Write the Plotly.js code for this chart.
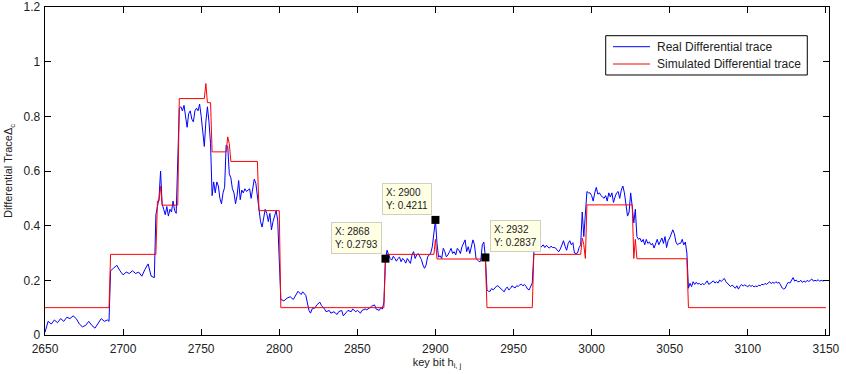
<!DOCTYPE html>
<html>
<head>
<meta charset="utf-8">
<script src="https://cdn.plot.ly/plotly-3.0.1.min.js"></script>
<style>html,body{margin:0;padding:0;background:#fff;}#chart{width:846px;height:374px;}</style>
</head>
<body>
<div id="chart"></div>
<script>
// Real differential trace (blue): key bit and value
const realKeys = [
2650,2652,2654,2656,2658,2660,2662,2664,2666,2668,2670,2672,2674,2676,2678,2680,2682,2684,2686,2688,2690,2691,
2692,2694,2696,2698,2700,2702,2704,2706,2708,2710,2712,2714,2716,2718,2720,
2721,2722,2723,2724,2725,2726,2727,2728,2729,2730,2731,2732,2733,2734,
2735,2736,2737,2738,2739,2740,2741,2742,2743,2744,2745,2746,2747,2748,2749,2750,2751,2752,2753,2754,2755,2756,
2757,2758,2759,2760,2761,2762,2763,2764,2765,2766,2767,2768,2769,2770,2771,2772,2773,2774,2775,2776,2777,2778,2779,2780,2781,2782,2783,2784,2785,2786,
2787,2788,2789,2790,2791,2792,2793,2794,2795,2796,2797,2798,2799,2800,
2801,2803,2805,2807,2809,2811,2812,2814,2815,2817,2818,2819,2820,2821,2823,2824,2826,2827,2829,2830,2832,2833,2835,2837,2838,2840,2841,2843,2844,2846,2847,2849,2850,2852,2853,2855,2856,2858,2859,2861,2862,2864,2865,2866,2867,
2868,2869,2870,2871,2872,2873,2874,2875,2876,2877,2878,2879,2880,2881,2882,2883,2884,2885,2886,2887,2888,2889,2890,2891,2892,2893,2894,2895,2896,2897,2898,2899,
2900,2901,2902,2903,2904,2905,2906,2907,2908,2909,2910,2911,2912,2913,2914,2915,2916,2917,2918,2919,2920,2921,2922,2923,2924,2925,2926,2927,2928,2929,2930,2931,2932,
2933,2934,2935,2936,2937,2938,2939,2940,2941,2942,2943,2944,2945,2946,2947,2948,2949,2950,2951,2952,2953,2954,2955,2956,2957,2958,2959,2960,2961,2962,
2963,2964,2965,2966,2967,2968,2969,2970,2971,2972,2973,2974,2975,2976,2977,2978,2979,2980,2981,2982,2983,2984,2985,2986,2987,2988,2989,2990,2991,2992,2993,2994,2995,2996,
2997,2998,2999,3000,3001,3002,3003,3004,3005,3006,3007,3008,3009,3010,3011,3012,3013,3014,3015,3016,3017,3018,3019,3020,3021,3022,3023,3024,3025,3026,3027,3028,
3029,3030,3031,3032,3033,3034,3035,3036,3037,3038,3039,3040,3041,3042,3043,3044,3045,3046,3047,3048,3049,3050,3051,3052,3053,3054,3055,3056,3057,3058,3059,3060,3061,
3062,3063,3064,3065,3066,3067,3068,3069,3070,3071,3072,3073,3074,3075,3076,3077,3078,3079,3080,3081,3082,3083,3084,3085,3086,3087,3088,3089,3090,3091,3092,3093,3094,3095,3096,3097,3098,3099,3100,
3101,3102,3103,3104,3105,3106,3107,3108,3109,3110,3111,3112,3113,3114,3115,3116,3117,3118,3119,3120,3121,3122,3123,3124,3125,3126,3127,3128,3129,3130,
3131,3132,3133,3134,3135,3136,3137,3138,3139,3140,3141,3142,3143,3144,3145,3146,3147,3148,3149,3150
];
const realVals = [
0.01,0.05,0.04,0.055,0.045,0.06,0.05,0.065,0.06,0.07,0.06,0.04,0.03,0.035,0.05,0.035,0.025,0.045,0.06,0.05,0.055,0.05,
0.235,0.245,0.255,0.235,0.22,0.23,0.225,0.235,0.225,0.23,0.215,0.24,0.26,0.215,0.21,
0.44,0.47,0.5,0.6,0.48,0.46,0.44,0.47,0.435,0.46,0.45,0.49,0.455,0.445,
0.64,0.83,0.835,0.82,0.84,0.80,0.76,0.81,0.82,0.79,0.78,0.82,0.83,0.82,0.845,0.80,0.745,0.69,0.78,0.835,0.78,0.70,
0.51,0.56,0.52,0.56,0.545,0.50,0.48,0.52,0.54,0.695,0.69,0.59,0.575,0.535,0.52,0.48,0.51,0.565,0.495,0.53,0.52,0.535,0.525,0.53,0.535,0.50,0.54,0.57,0.555,0.51,
0.45,0.415,0.395,0.43,0.46,0.445,0.415,0.445,0.385,0.415,0.44,0.455,0.42,0.25,
0.13,0.125,0.135,0.14,0.13,0.15,0.16,0.148,0.158,0.145,0.12,0.09,0.08,0.095,0.10,0.11,0.12,0.108,0.095,0.085,0.09,0.08,0.085,0.075,0.085,0.09,0.07,0.085,0.09,0.085,0.095,0.085,0.09,0.08,0.09,0.095,0.092,0.10,0.105,0.11,0.095,0.09,0.10,0.095,0.12,
0.2793,0.31,0.293,0.28,0.274,0.288,0.28,0.27,0.28,0.285,0.268,0.28,0.274,0.263,0.28,0.27,0.262,0.293,0.305,0.28,0.293,0.298,0.286,0.276,0.256,0.244,0.256,0.286,0.293,0.30,0.323,0.37,
0.4211,0.335,0.285,0.29,0.28,0.317,0.305,0.286,0.293,0.305,0.317,0.298,0.305,0.293,0.317,0.31,0.298,0.323,0.335,0.348,0.305,0.323,0.298,0.33,0.348,0.33,0.28,0.274,0.268,0.27,0.33,0.34,0.2837,
0.165,0.16,0.16,0.17,0.165,0.172,0.178,0.18,0.175,0.17,0.165,0.158,0.17,0.175,0.165,0.17,0.18,0.175,0.172,0.18,0.178,0.183,0.186,0.18,0.185,0.178,0.168,0.165,0.175,0.19,
0.30,0.325,0.31,0.33,0.318,0.325,0.33,0.32,0.328,0.322,0.318,0.325,0.32,0.32,0.318,0.31,0.305,0.315,0.33,0.345,0.325,0.31,0.335,0.345,0.33,0.338,0.30,0.298,0.30,0.32,0.33,0.45,0.36,0.45,
0.525,0.52,0.52,0.51,0.49,0.52,0.54,0.515,0.52,0.51,0.505,0.50,0.51,0.49,0.52,0.505,0.52,0.485,0.505,0.52,0.525,0.50,0.53,0.545,0.52,0.47,0.435,0.45,0.52,0.47,0.41,0.46,
0.36,0.35,0.354,0.34,0.35,0.33,0.35,0.335,0.34,0.33,0.335,0.318,0.335,0.35,0.33,0.342,0.355,0.335,0.36,0.32,0.345,0.355,0.37,0.385,0.37,0.34,0.33,0.335,0.335,0.35,0.33,0.34,0.30,
0.171,0.189,0.177,0.195,0.185,0.193,0.186,0.189,0.183,0.189,0.184,0.19,0.198,0.185,0.19,0.194,0.198,0.19,0.195,0.19,0.201,0.196,0.2,0.207,0.195,0.19,0.183,0.177,0.183,0.175,0.171,0.18,0.168,0.178,0.185,0.179,0.183,0.18,0.176,
0.183,0.178,0.181,0.176,0.179,0.177,0.182,0.18,0.186,0.183,0.189,0.185,0.19,0.195,0.188,0.193,0.189,0.195,0.19,0.193,0.183,0.172,0.168,0.171,0.185,0.193,0.19,0.198,0.21,0.197,
0.201,0.195,0.195,0.2,0.192,0.198,0.193,0.2,0.196,0.2,0.205,0.197,0.2,0.198,0.202,0.197,0.2,0.198,0.2,0.2
];

// Simulated differential trace (red): breakpoints of the step curve
const simKeys = [2650,2691,2692,2721,2722,2723,2724,2725,2735,2736,2752,2753,2754,2756,2757,2766,2767,2768,2769,2786,2787,2800,2801,2867,2868,2869,2899,2900,2901,2931,2932,2933,2962,2963,2993,2994,2995,2996,2997,3026,3027,3028,3029,3061,3062,3150];
const simVals = [0.10,0.10,0.295,0.295,0.49,0.49,0.545,0.475,0.475,0.865,0.865,0.92,0.85,0.85,0.67,0.67,0.725,0.70,0.635,0.635,0.455,0.455,0.10,0.10,0.279,0.295,0.295,0.35,0.278,0.278,0.278,0.10,0.10,0.295,0.295,0.355,0.33,0.28,0.476,0.476,0.28,0.35,0.279,0.279,0.10,0.10];

// Data tips
const tipKeys = [2868, 2900, 2932];
const tipVals = [0.2793, 0.4211, 0.2837];
const tipSide = ['left', 'left', 'right'];

// Series names (legend)
const seriesNames = ['Real Differential trace', 'Simulated Differential trace'];
const seriesColors = ['#0000ff', '#ff0000'];

const xTicks = [2650,2700,2750,2800,2850,2900,2950,3000,3050,3100,3150];
const yTicks = [0,0.2,0.4,0.6,0.8,1,1.2];
const yTickText = ['0','0.2','0.4','0.6','0.8','1','1.2'];

const FONT = 'Liberation Sans, Arial, Helvetica, sans-serif';

const traces = [
  {x: realKeys, y: realVals, type: 'scatter', mode: 'lines', name: seriesNames[0],
   line: {color: seriesColors[0], width: 1}, showlegend: false},
  {x: simKeys, y: simVals, type: 'scatter', mode: 'lines', name: seriesNames[1],
   line: {color: seriesColors[1], width: 1}, showlegend: false},
  {x: tipKeys, y: tipVals, type: 'scatter', mode: 'markers', showlegend: false,
   marker: {symbol: 'square', size: 8, color: '#000000'}}
];

const annotations = tipKeys.map((k, i) => ({
  x: k, y: tipVals[i], xref: 'x', yref: 'y', showarrow: false,
  text: 'X: ' + k + '<br>Y: ' + tipVals[i].toFixed(4),
  align: 'left',
  xanchor: tipSide[i] === 'left' ? 'right' : 'left',
  yanchor: 'bottom',
  xshift: tipSide[i] === 'left' ? -3 : 5,
  yshift: 5,
  bgcolor: 'rgb(255,255,228)', bordercolor: '#cfcfc4', borderwidth: 1, borderpad: 3,
  font: {family: FONT, size: 10, color: '#222'}
}));

// Legend box (MATLAB-style), drawn in paper coordinates
const legBox = {x0: 0.7152, x1: 0.9723, y0: 0.7927, y1: 0.9125};
const legRows = [0.879, 0.8262];
const shapes = [
  {type: 'rect', xref: 'paper', yref: 'paper', x0: legBox.x0, x1: legBox.x1, y0: legBox.y0, y1: legBox.y1,
   line: {color: '#000', width: 1}, fillcolor: '#fff', layer: 'above'}
];
legRows.forEach((ry, i) => {
  shapes.push({type: 'line', xref: 'paper', yref: 'paper', x0: 0.7245, x1: 0.7717, y0: ry, y1: ry,
    line: {color: seriesColors[i], width: 1}, layer: 'above'});
  annotations.push({xref: 'paper', yref: 'paper', x: 0.7785, y: ry, xanchor: 'left', yanchor: 'middle',
    showarrow: false, text: seriesNames[i], font: {family: FONT, size: 12, color: '#222'}});
});

const axisCommon = {
  showline: true, linecolor: '#000', linewidth: 1.3, mirror: 'ticks',
  ticks: 'inside', ticklen: 6, tickcolor: '#000', tickwidth: 1,
  showgrid: false, zeroline: false,
  tickfont: {family: FONT, size: 12, color: '#222'}
};

const layout = {
  width: 846, height: 374,
  margin: {l: 45, r: 17, t: 7, b: 39},
  paper_bgcolor: '#fff', plot_bgcolor: '#fff',
  font: {family: FONT, size: 11, color: '#222'},
  showlegend: false,
  xaxis: Object.assign({}, axisCommon, {
    range: [2650, 3152], tickvals: xTicks, ticktext: xTicks.map(String), ticklabelstandoff: 2,
    title: {text: 'key bit h<sub>i, j</sub>', font: {family: FONT, size: 11, color: '#222'}, standoff: 3}
  }),
  yaxis: Object.assign({}, axisCommon, {
    range: [0, 1.2], tickvals: yTicks, ticktext: yTickText, ticklabelstandoff: 1,
    title: {text: 'Differential TraceΔ<sub>c</sub>', font: {family: FONT, size: 11, color: '#222'}, standoff: 8}
  }),
  annotations: annotations,
  shapes: shapes
};

Plotly.newPlot('chart', traces, layout, {displayModeBar: false, staticPlot: true});
</script>
</body>
</html>
